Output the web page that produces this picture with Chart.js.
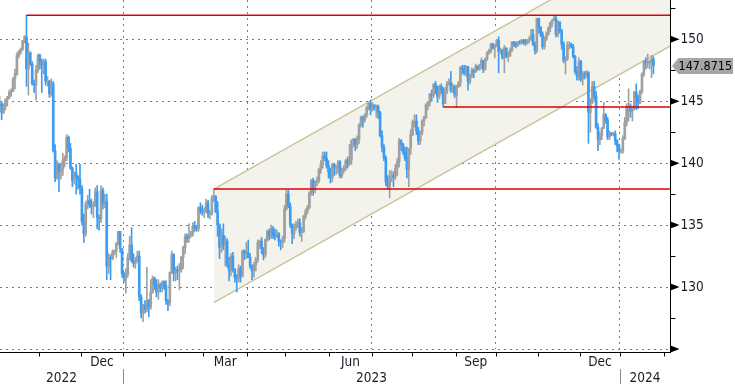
<!DOCTYPE html>
<html>
<head>
<meta charset="utf-8">
<script src="https://cdn.jsdelivr.net/npm/chart.js@4.4.1/dist/chart.umd.min.js"></script>
<style>
  html, body { margin: 0; padding: 0; background: #fff; }
  #chart { display: block; }
</style>
</head>
<body>
<canvas id="chart" width="735" height="384"></canvas>
<script>
// USD/JPY daily candles, one value per weekday starting 3 Oct 2022 (one row per month)
const firstDay = "2022-10-03";

const opens = [
  144.7,144.8,144.1,144.6,145.1,145.3,145.7,145.8,146.8,147.2,148.7,149.0,149.2,149.9,150.2,147.6,148.9,148.0,146.4,146.3,147.5,
  148.7,148.2,147.9,148.2,146.6,146.6,145.6,146.4,141.0,138.8,139.9,139.3,139.5,140.2,140.4,142.1,141.2,139.6,138.6,139.2,138.9,138.7,
  138.0,135.3,134.3,136.7,137.0,136.6,136.5,136.6,137.7,135.6,135.5,137.8,136.7,136.9,131.7,132.4,132.3,132.8,132.9,133.5,134.5,133.1,
  131.1,130.7,131.0,132.4,133.4,132.1,131.9,132.2,132.5,129.2,127.9,128.5,128.2,128.9,128.4,129.6,130.7,130.2,129.6,130.2,129.9,130.4,
  130.1,128.9,128.7,131.2,132.6,131.1,131.4,131.3,131.4,132.4,133.2,134.1,133.9,134.2,134.3,134.9,134.8,134.7,136.4,136.2,
  136.1,136.2,136.8,135.9,135.9,137.2,137.3,136.1,135.0,133.2,134.2,133.4,133.7,131.8,131.3,132.5,131.4,130.8,130.7,131.5,130.9,132.9,132.7,
  132.8,132.4,131.7,131.3,131.8,132.2,133.6,133.7,133.1,132.6,133.8,134.5,134.1,134.7,134.2,134.1,134.3,133.7,133.6,133.9,
  136.3,137.5,136.5,135.0,134.3,134.8,135.1,135.2,134.4,134.5,135.7,136.1,136.4,137.6,138.6,137.9,138.5,138.6,139.5,139.9,140.6,140.4,139.8,
  139.3,138.8,139.9,139.6,139.6,140.1,139.0,139.4,139.6,140.2,140.0,140.3,141.8,141.9,141.5,141.9,143.1,143.7,143.5,143.9,144.5,144.8,
  144.3,144.7,144.5,144.6,144.1,142.2,141.3,140.4,138.5,138.1,138.8,139.0,138.9,139.6,140.1,141.8,141.5,140.9,140.4,139.5,141.2,
  142.3,143.3,143.4,142.6,141.8,142.5,143.4,143.7,144.7,144.9,145.6,145.5,146.4,146.1,145.4,146.2,145.9,144.8,145.8,146.4,146.5,145.9,146.2,
  145.5,146.2,146.5,147.7,147.6,147.3,147.8,146.6,147.1,147.5,147.4,147.8,147.6,147.9,148.3,147.6,148.4,148.9,149.1,149.6,149.3,
  149.4,149.9,149.0,149.1,148.5,149.3,148.6,148.7,149.1,149.8,149.6,149.5,149.8,149.7,149.9,149.8,149.7,149.9,150.0,150.4,149.6,149.1,
  151.7,151.0,150.4,149.4,150.0,150.4,150.9,151.3,151.5,151.7,150.4,151.4,150.7,149.6,148.3,148.4,149.5,149.6,149.4,148.6,147.4,147.0,
  148.2,146.8,147.2,147.1,147.3,144.1,144.9,146.2,145.4,142.9,141.9,142.2,142.8,143.9,143.5,142.1,142.4,142.3,142.4,141.8,141.4,
  141.0,141.0,142.0,143.3,144.6,144.6,144.2,144.5,145.7,145.3,144.9,145.8,147.2,148.2,148.1,148.1,148.1,148.4,
];
const highs = [
  145.4,145.0,144.8,145.2,145.4,145.9,146.0,146.9,147.6,148.9,149.1,149.3,149.9,150.3,151.94,149.7,149.0,148.2,146.7,147.9,148.8,
  148.8,148.4,148.4,148.4,147.0,146.7,146.8,146.6,141.5,140.2,140.0,140.0,140.8,140.6,142.3,142.2,141.6,139.7,139.3,139.9,139.0,139.9,
  138.2,135.9,136.9,137.4,137.9,137.1,136.9,138.0,138.2,135.8,138.2,138.0,137.5,137.5,132.7,132.6,133.0,133.0,133.6,134.5,134.5,133.1,
  131.2,131.5,132.7,134.1,134.8,132.7,132.4,132.9,132.9,129.4,128.6,128.9,131.6,129.0,130.6,130.9,130.8,130.6,130.6,130.3,130.5,130.5,
  130.5,129.0,131.2,132.9,132.7,131.6,131.7,131.9,132.5,133.3,134.3,134.3,135.1,134.5,135.2,135.3,135.0,136.5,136.8,136.6,
  136.4,137.1,137.0,136.2,137.4,137.91,137.4,136.9,135.1,134.7,135.1,134.1,133.9,132.4,132.7,132.8,131.5,131.0,131.8,131.7,133.0,133.0,133.6,
  133.8,132.7,131.8,132.0,132.4,133.8,133.8,134.0,133.2,133.9,134.6,134.7,135.0,134.9,134.7,134.6,134.4,133.8,134.1,136.6,
  137.8,137.8,136.8,135.1,135.1,135.3,135.5,135.5,134.8,135.8,136.3,136.6,137.7,138.7,138.8,138.6,138.9,139.6,140.2,140.9,140.9,140.9,140.2,
  139.6,140.0,140.0,139.8,140.2,140.2,139.6,139.8,140.3,140.5,141.5,141.9,142.0,142.0,142.2,143.2,143.8,143.8,144.0,144.6,144.9,145.1,
  144.9,144.7,144.7,144.7,144.2,142.6,141.5,140.6,139.0,139.4,139.4,139.3,139.9,140.4,142.0,141.9,141.6,141.3,141.3,141.2,142.7,
  143.5,143.9,143.9,142.9,142.6,143.5,143.8,144.8,145.0,145.6,145.9,146.4,146.6,146.2,146.3,146.4,146.1,146.1,146.6,146.8,147.4,146.4,146.3,
  146.3,146.6,147.8,147.9,147.9,147.9,147.8,147.2,147.7,147.6,148.0,147.9,148.0,148.5,148.3,148.5,149.0,149.2,149.7,149.7,149.6,
  150.0,150.2,149.3,149.2,149.5,149.3,149.0,149.3,149.8,149.8,149.8,149.8,149.9,150.0,150.0,150.0,150.0,150.2,150.8,150.8,149.8,151.7,
  151.7,151.0,150.6,150.2,150.6,151.0,151.4,151.6,151.9,151.9,151.5,151.4,150.8,149.8,148.6,149.8,149.8,149.7,149.6,148.7,147.8,148.5,
  148.3,147.4,147.4,147.5,147.4,145.2,146.6,146.6,145.8,143.2,142.5,142.9,144.9,144.0,143.7,142.6,142.5,142.5,142.6,141.9,141.5,
  141.1,142.2,143.7,144.8,146.0,144.8,144.6,145.8,146.4,145.5,145.9,147.3,148.3,148.5,148.8,148.3,148.7,148.6,
];
const lows = [
  144.6,143.5,144.0,144.3,144.6,145.2,145.4,145.8,146.0,147.1,148.5,148.8,149.1,149.7,146.2,145.5,147.9,146.3,145.7,145.1,147.3,
  147.6,145.7,147.2,146.3,146.2,145.3,145.4,140.9,138.5,138.7,137.7,138.7,139.0,139.7,140.2,140.9,139.5,138.1,138.3,137.5,137.9,137.5,
  135.0,133.6,134.1,136.3,136.4,135.9,135.6,136.5,134.7,134.6,135.2,136.3,136.4,130.6,131.1,130.6,132.2,132.6,132.4,133.4,132.8,130.8,
  130.4,129.5,130.8,132.2,132.0,131.6,131.5,132.0,128.9,127.5,127.2,127.9,128.0,127.6,128.2,129.5,129.8,129.2,129.0,129.6,129.6,129.8,
  128.6,128.1,128.5,131.1,130.5,130.5,130.6,129.8,131.2,131.5,132.7,133.6,133.6,134.0,134.1,134.5,134.5,134.5,135.9,135.8,
  135.6,136.0,135.6,135.5,135.8,136.9,136.0,134.1,132.3,132.8,133.0,131.7,131.6,130.5,130.9,131.2,130.4,129.6,130.4,130.4,130.8,132.2,132.3,
  132.4,131.5,130.6,130.8,131.3,132.0,133.1,132.7,132.2,132.4,133.7,133.8,133.9,133.9,133.8,134.0,133.3,133.0,133.2,133.6,
  136.2,136.4,134.8,133.5,133.9,134.6,134.8,134.1,133.7,134.4,135.5,135.9,136.3,137.4,137.4,137.6,138.2,138.4,139.2,139.6,140.2,139.6,138.8,
  138.4,138.5,139.0,139.1,139.2,138.8,138.8,139.2,139.4,139.6,139.8,139.9,141.3,141.0,141.2,141.6,142.9,142.9,143.3,143.7,144.3,143.9,
  144.2,144.3,143.7,143.6,142.1,140.9,140.2,138.2,137.9,137.2,138.5,138.1,138.7,139.0,139.7,141.0,140.7,140.2,138.8,138.1,140.7,
  142.2,142.9,142.3,141.5,141.5,142.3,143.0,143.6,144.3,144.6,145.0,145.3,145.6,144.9,145.2,145.6,144.54,144.8,145.6,146.3,145.7,145.7,145.3,
  144.5,146.1,146.2,147.2,147.1,147.0,145.9,146.4,146.9,146.9,147.3,147.5,147.5,147.6,147.3,147.5,148.3,148.8,148.9,149.2,148.5,
  149.4,147.3,148.8,148.4,147.3,148.5,148.2,148.6,149.0,149.4,149.3,149.4,149.6,149.6,149.6,149.5,149.6,149.7,149.9,149.5,148.8,148.9,
  150.5,150.2,149.2,149.2,149.9,150.3,150.6,151.0,151.5,150.2,150.2,150.5,149.2,148.1,147.2,148.3,149.2,149.3,148.5,147.2,146.7,146.7,
  146.6,146.3,146.8,146.9,141.6,142.5,144.8,145.1,142.8,141.0,141.5,141.9,142.8,143.2,141.9,141.9,142.2,142.2,141.5,140.9,140.3,
  140.8,140.8,141.9,143.0,143.4,143.7,143.4,144.3,144.3,144.4,144.8,145.6,147.0,147.6,147.7,147.6,146.9,147.2,
];
const closes = [
  144.8,144.1,144.6,145.1,145.3,145.7,145.8,146.8,147.2,148.7,149.0,149.2,149.9,150.2,147.6,148.9,148.0,146.4,146.3,147.5,148.7,
  148.2,147.9,148.2,146.6,146.6,145.6,146.4,141.0,138.8,139.9,139.3,139.5,140.2,140.4,142.1,141.2,139.6,138.6,139.2,138.9,138.7,138.0,
  135.3,134.3,136.7,137.0,136.6,136.5,136.6,137.7,135.6,135.5,137.8,136.7,136.9,131.7,132.4,132.3,132.8,132.9,133.5,134.5,133.1,131.1,
  130.7,131.0,132.4,133.4,132.1,131.9,132.2,132.5,129.2,127.9,128.5,128.2,128.9,128.4,129.6,130.7,130.2,129.6,130.2,129.9,130.4,130.1,
  128.9,128.7,131.2,132.6,131.1,131.4,131.3,131.4,132.4,133.2,134.1,133.9,134.2,134.3,134.9,134.8,134.7,136.4,136.2,136.1,
  136.2,136.8,135.9,135.9,137.2,137.3,136.1,135.0,133.2,134.2,133.4,133.7,131.8,131.3,132.5,131.4,130.8,130.7,131.5,130.9,132.9,132.7,132.8,
  132.4,131.7,131.3,131.8,132.2,133.6,133.7,133.1,132.6,133.8,134.5,134.1,134.7,134.2,134.1,134.3,133.7,133.6,133.9,136.3,
  137.5,136.5,135.0,134.3,134.8,135.1,135.2,134.4,134.5,135.7,136.1,136.4,137.6,138.6,137.9,138.5,138.6,139.5,139.9,140.6,140.4,139.8,139.3,
  138.8,139.9,139.6,139.6,140.1,139.0,139.4,139.6,140.2,140.0,140.3,141.8,141.9,141.5,141.9,143.1,143.7,143.5,143.9,144.5,144.8,144.3,
  144.7,144.5,144.6,144.1,142.2,141.3,140.4,138.5,138.1,138.8,139.0,138.9,139.6,140.1,141.8,141.5,140.9,140.4,139.5,141.2,142.3,
  143.3,143.4,142.6,141.8,142.5,143.4,143.7,144.7,144.9,145.6,145.5,146.4,146.1,145.4,146.2,145.9,144.8,145.8,146.4,146.5,145.9,146.2,145.5,
  146.2,146.5,147.7,147.6,147.3,147.8,146.6,147.1,147.5,147.4,147.8,147.6,147.9,148.3,147.6,148.4,148.9,149.1,149.6,149.3,149.4,
  149.9,149.0,149.1,148.5,149.3,148.6,148.7,149.1,149.8,149.6,149.5,149.8,149.7,149.9,149.8,149.7,149.9,150.0,150.4,149.6,149.1,151.7,
  151.0,150.4,149.4,150.0,150.4,150.9,151.3,151.5,151.7,150.4,151.4,150.7,149.6,148.3,148.4,149.5,149.6,149.4,148.6,147.4,147.0,148.2,
  146.8,147.2,147.1,147.3,144.1,144.9,146.2,145.4,142.9,141.9,142.2,142.8,143.9,143.5,142.1,142.4,142.3,142.4,141.8,141.4,141.0,
  141.0,142.0,143.3,144.6,144.6,144.2,144.5,145.7,145.3,144.9,145.8,147.2,148.2,148.1,148.1,148.1,148.4,147.8715,
];

// horizontal levels drawn from the day they were set
const levelValues = [151.94, 137.91, 144.54];
const levelStartDays = ["2022-10-21", "2023-03-08", "2023-08-23"];

// rising channel (upper / lower edge at start and end day)
const channelDays = ["2023-03-08", "2024-02-06"];
const channelUpper = [137.91, 158.63];
const channelLower = [128.75, 149.47];

// axis
const xRange = [0.15, 350.66]; // weekday index
const yRange = [125, 153.17];
const yGridValues = [125, 130, 135, 140, 145, 150];
const yLabelValues = [130, 135, 140, 145, 150];
const yMinorValues = [127.5, 132.5, 137.5, 142.5, 147.5, 152.5];
const monthLabels = ["Dec", "Mar", "Jun", "Sep", "Dec"];
const monthLabelKeys = ["2022-12", "2023-03", "2023-06", "2023-09", "2023-12"];
const yearLabels = ["2022", "2023", "2024"];

const upColor = "#a0a0a0";
const downColor = "#3d9cf2";
const levelColor = "#e00000";
const gridColor = "#7c7c7c";
const textColor = "#1b1b28";
const fontFamily = '"DejaVu Sans Condensed", "Liberation Sans Narrow", sans-serif';

// weekday calendar used for the x axis
function weekdaysFrom(start, count) {
  const out = [];
  const d = new Date(start + "T00:00:00Z");
  while (out.length < count) {
    const wd = d.getUTCDay();
    if (wd !== 0 && wd !== 6) out.push(d.toISOString().slice(0, 10));
    d.setUTCDate(d.getUTCDate() + 1);
  }
  return out;
}
const axisDays = weekdaysFrom(firstDay, Math.ceil(xRange[1]) + 1);
const dayIndex = (day) => axisDays.indexOf(day);

// month boundaries (between last day of one month and first of next)
const monthLines = [];
const quarterLines = [];
for (let i = 1; i < axisDays.length; i++) {
  if (axisDays[i].slice(0, 7) !== axisDays[i - 1].slice(0, 7)) {
    monthLines.push(i - 0.5);
    if (["01", "04", "07", "10"].includes(axisDays[i].slice(5, 7))) quarterLines.push(i - 0.5);
  }
}
const yearLines = quarterLines.filter((v) => axisDays[v + 0.5].slice(5, 7) === "01");

const monthCenter = (key) => {
  const idx = axisDays.map((d, i) => (d.startsWith(key) ? i : -1)).filter((i) => i >= 0);
  return (idx[0] + idx[idx.length - 1]) / 2;
};
const yearCenter = (year) => {
  const idx = axisDays.map((d, i) => (d.startsWith(year) ? i : -1)).filter((i) => i >= 0);
  const a = Math.max(idx[0] - 0.5, xRange[0]);
  const b = Math.min(idx[idx.length - 1] + 0.5, xRange[1]);
  return (a + b) / 2;
};

const candleColors = closes.map((c, i) => (c >= opens[i] ? upColor : downColor));
const wickData = closes.map((c, i) => ({ x: i, y: [lows[i], highs[i]] }));
const bodyData = closes.map((c, i) => ({ x: i, y: [opens[i], c] }));

const endDay = channelDays[1];
const levelSets = levelValues.map((v, i) => ({
  type: "line",
  data: [
    { x: dayIndex(levelStartDays[i]), y: v },
    { x: dayIndex(endDay), y: v },
  ],
  borderColor: levelColor,
  borderWidth: 1.5,
  pointRadius: 0,
  fill: false,
  order: 1,
}));

// axis lines, month/year labels, y labels and the last price tag
const axisDecor = {
  id: "axisDecor",
  afterDraw(chart) {
    const { ctx, chartArea: area, scales } = chart;
    const x = scales.x;
    const y = scales.y;
    const axisY = area.bottom + 3.5;
    const axisX = area.right + 0.5;
    ctx.save();
    ctx.strokeStyle = "#000";
    ctx.lineWidth = 1;
    ctx.beginPath();
    ctx.moveTo(area.left, axisY);
    ctx.lineTo(axisX + 0.5, axisY);
    ctx.moveTo(axisX, area.top);
    ctx.lineTo(axisX, axisY);
    monthLines.forEach((v) => {
      const px = Math.round(x.getPixelForValue(v)) + 0.5;
      if (px < area.right) {
        ctx.moveTo(px, axisY);
        ctx.lineTo(px, axisY + 4);
      }
    });
    yMinorValues.forEach((v) => {
      const py = Math.round(y.getPixelForValue(v)) + 0.5;
      ctx.moveTo(axisX, py);
      ctx.lineTo(axisX + 5, py);
    });
    ctx.stroke();

    // year separators
    ctx.strokeStyle = "#8a8a8a";
    ctx.beginPath();
    yearLines.forEach((v) => {
      const px = Math.round(x.getPixelForValue(v)) + 0.5;
      ctx.moveTo(px, area.bottom + 20);
      ctx.lineTo(px, area.bottom + 35);
    });
    ctx.stroke();

    // y tick arrows
    ctx.fillStyle = "#000";
    yGridValues.forEach((v) => {
      const py = y.getPixelForValue(v);
      ctx.beginPath();
      ctx.moveTo(axisX, py - 3.5);
      ctx.lineTo(axisX + 9, py);
      ctx.lineTo(axisX, py + 3.5);
      ctx.closePath();
      ctx.fill();
    });

    ctx.font = "13.5px " + fontFamily;
    ctx.fillStyle = textColor;
    ctx.textBaseline = "middle";
    ctx.textAlign = "left";
    yLabelValues.forEach((v) => {
      ctx.fillText(String(v), axisX + 10, y.getPixelForValue(v) + 0.5);
    });

    ctx.textAlign = "center";
    monthLabels.forEach((label, i) => {
      ctx.fillText(label, x.getPixelForValue(monthCenter(monthLabelKeys[i])), area.bottom + 13);
    });
    yearLabels.forEach((label) => {
      ctx.fillText(label, x.getPixelForValue(yearCenter(label)), area.bottom + 29);
    });

    // last price tag
    const last = closes[closes.length - 1];
    const py = Math.round(y.getPixelForValue(last));
    ctx.fillStyle = "#a6a6a6";
    ctx.beginPath();
    ctx.moveTo(axisX + 1.5, py);
    ctx.lineTo(axisX + 8, py - 8);
    ctx.lineTo(chart.width - 2, py - 8);
    ctx.lineTo(chart.width - 2, py + 8);
    ctx.lineTo(axisX + 8, py + 8);
    ctx.closePath();
    ctx.fill();
    ctx.fillStyle = "#000";
    ctx.textAlign = "left";
    ctx.font = "12.5px " + fontFamily;
    ctx.fillText(last.toFixed(4), axisX + 8, py + 0.5);
    ctx.restore();
  },
};

new Chart(document.getElementById("chart"), {
  type: "bar",
  data: {
    datasets: [
      {
        type: "line",
        data: [
          { x: dayIndex(channelDays[0]), y: channelUpper[0] },
          { x: dayIndex(channelDays[1]), y: channelUpper[1] },
        ],
        borderColor: "#c9c59e",
        borderWidth: 1.5,
        pointRadius: 0,
        fill: false,
        order: 4,
      },
      {
        type: "line",
        data: [
          { x: dayIndex(channelDays[0]), y: channelLower[0] },
          { x: dayIndex(channelDays[1]), y: channelLower[1] },
        ],
        borderColor: "#c9c59e",
        backgroundColor: "#f3f3ec",
        borderWidth: 1.5,
        pointRadius: 0,
        fill: "-1",
        order: 5,
      },
      {
        data: wickData,
        backgroundColor: candleColors,
        barThickness: 1,
        grouped: false,
        borderWidth: 0,
        order: 3,
      },
      {
        data: bodyData,
        backgroundColor: candleColors,
        barThickness: 2,
        minBarLength: 1,
        grouped: false,
        borderWidth: 0,
        order: 2,
      },
      ...levelSets,
    ],
  },
  options: {
    responsive: false,
    animation: false,
    events: [],
    layout: { padding: 0 },
    plugins: {
      legend: { display: false },
      tooltip: { enabled: false },
    },
    scales: {
      x: {
        type: "linear",
        min: xRange[0],
        max: xRange[1],
        offset: false,
        afterBuildTicks: (s) => {
          s.ticks = quarterLines.map((v) => ({ value: v }));
        },
        afterFit: (s) => {
          s.height = 35;
        },
        ticks: { display: false },
        grid: { color: gridColor, drawTicks: false, offset: false },
        border: { display: false, dash: [2, 4] },
      },
      y: {
        type: "linear",
        position: "right",
        min: yRange[0],
        max: yRange[1],
        afterBuildTicks: (s) => {
          s.ticks = yGridValues.map((v) => ({ value: v }));
        },
        afterFit: (s) => {
          s.width = 65;
        },
        ticks: { display: false },
        grid: { color: gridColor, drawTicks: false },
        border: { display: false, dash: [2, 4] },
      },
    },
  },
  plugins: [axisDecor],
});
</script>
</body>
</html>
